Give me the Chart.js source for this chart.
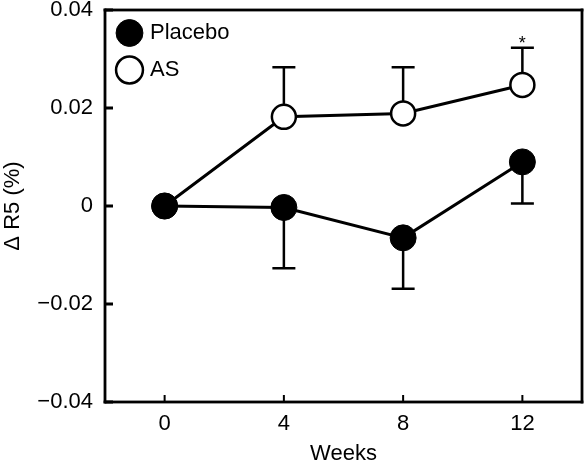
<!DOCTYPE html>
<html>
<head>
<meta charset="utf-8">
<script src="https://cdn.jsdelivr.net/npm/chart.js@4.4.1/dist/chart.umd.min.js"></script>
<style>
  html, body { margin: 0; padding: 0; background: #fff; }
</style>
</head>
<body>
<canvas id="chart" width="585" height="465"></canvas>
<script>
// data
const weeks = [0, 4, 8, 12];
const placebo = [0, -0.0003, -0.0065, 0.0090];
const placeboSE = [0, 0.0124, 0.0104, 0.0085];   // drawn downward
const as = [0, 0.0182, 0.0189, 0.0247];
const asSE = [0, 0.0101, 0.0094, 0.0076];        // drawn upward
const asMarks = ['', '', '', '*'];

const xTicks = [0, 4, 8, 12];
const yTicks = [-0.04, -0.02, 0, 0.02, 0.04];
const yTickLabels = ['\u22120.04', '\u22120.02', '0', '0.02', '0.04'];

const FONT = '"Liberation Sans", Arial, Helvetica, sans-serif';

const errorBars = {
  id: 'errorBars',
  beforeDatasetsDraw(chart) {
    const ctx = chart.ctx, x = chart.scales.x, y = chart.scales.y;
    const bars = [[placebo, placeboSE, -1], [as, asSE, 1]];
    ctx.save();
    ctx.strokeStyle = '#000';
    ctx.lineWidth = 2.5;
    bars.forEach(([vals, se, dir]) => {
      weeks.forEach((w, i) => {
        if (!se[i]) return;
        const px = x.getPixelForValue(w);
        const p0 = y.getPixelForValue(vals[i]);
        const p1 = y.getPixelForValue(vals[i] + dir * se[i]);
        ctx.beginPath();
        ctx.moveTo(px, p0); ctx.lineTo(px, p1);
        ctx.moveTo(px - 11.5, p1); ctx.lineTo(px + 11.5, p1);
        ctx.stroke();
      });
    });
    // significance mark above the AS bar
    ctx.fillStyle = '#000';
    ctx.font = '18px ' + FONT;
    ctx.textAlign = 'center';
    ctx.textBaseline = 'bottom';
    weeks.forEach((w, i) => {
      if (!asMarks[i]) return;
      ctx.fillText(asMarks[i], x.getPixelForValue(w), y.getPixelForValue(as[i] + asSE[i]) + 5);
    });
    ctx.restore();
  }
};

// box around the plot plus inward tick marks
const axisBox = {
  id: 'axisBox',
  afterDraw(chart) {
    const ctx = chart.ctx, a = chart.chartArea, x = chart.scales.x, y = chart.scales.y;
    ctx.save();
    ctx.fillStyle = '#000';
    const w = 2.8, h = w / 2;
    ctx.fillRect(a.left - h, a.top - h, a.right - a.left + w, w);
    ctx.fillRect(a.left - h, a.bottom - h, a.right - a.left + w, w);
    ctx.fillRect(a.left - h, a.top - h, w, a.bottom - a.top + w);
    ctx.fillRect(a.right - h, a.top - h, w, a.bottom - a.top + w);
    y.ticks.forEach(t => {
      const py = y.getPixelForValue(t.value);
      ctx.fillRect(a.left, py - 1.5, 8, 3);
    });
    x.ticks.forEach(t => {
      const px = x.getPixelForValue(t.value);
      ctx.fillRect(px - 1, a.bottom - 7, 2, 7);
    });
    ctx.restore();
  }
};

new Chart(document.getElementById('chart'), {
  type: 'line',
  data: {
    datasets: [{
      label: 'Placebo',
      data: weeks.map((w, i) => ({x: w, y: placebo[i]})),
      borderColor: '#000',
      backgroundColor: '#000',
      borderWidth: 3,
      pointRadius: 13,
      pointBackgroundColor: '#000',
      pointBorderColor: '#000',
      pointBorderWidth: 1,
      fill: false
    }, {
      label: 'AS',
      data: weeks.map((w, i) => ({x: w, y: as[i]})),
      borderColor: '#000',
      backgroundColor: '#fff',
      borderWidth: 3,
      pointRadius: 12,
      pointBackgroundColor: '#fff',
      pointBorderColor: '#000',
      pointBorderWidth: 2.5,
      fill: false
    }]
  },
  options: {
    responsive: false,
    animation: false,
    layout: { autoPadding: false, padding: { top: 10, right: 3, left: 0, bottom: 0 } },
    plugins: {
      tooltip: { enabled: false },
      legend: {
        position: 'chartArea',
        align: 'start',
        title: { display: true, text: ' ', font: { size: 7, lineHeight: 1 }, padding: 0 },
        labels: {
          usePointStyle: true,
          pointStyle: 'circle',
          boxWidth: 19,
          boxHeight: 19,
          padding: 15,
          color: '#000',
          font: { family: FONT, size: 22 }
        }
      }
    },
    scales: {
      x: {
        type: 'linear',
        min: -2,
        max: 14,
        afterBuildTicks: s => { s.ticks = xTicks.map(v => ({value: v})); },
        afterFit: s => { s.height = 63; s.paddingLeft = 0; s.paddingRight = 0; },
        grid: { display: false, drawTicks: false },
        border: { display: false },
        ticks: { padding: 9, color: '#000', font: { family: FONT, size: 22 } },
        title: {
          display: true, text: 'Weeks', color: '#000',
          font: { family: FONT, size: 22, lineHeight: 1 },
          padding: { top: 0, bottom: 0 }
        }
      },
      y: {
        min: -0.04,
        max: 0.04,
        afterBuildTicks: s => { s.ticks = yTicks.map(v => ({value: v})); },
        afterFit: s => { s.width = 105; s.paddingTop = 0; s.paddingBottom = 0; },
        grid: { display: false, drawTicks: false },
        border: { display: false },
        ticks: {
          padding: 12, color: '#000', font: { family: FONT, size: 22 },
          callback: (v, i) => yTickLabels[i]
        },
        title: {
          display: true, text: '\u0394 R5 (%)', color: '#000',
          font: { family: FONT, size: 22, lineHeight: 1 },
          padding: { top: 2, bottom: 0 }
        }
      }
    }
  },
  plugins: [errorBars, axisBox]
});
</script>
</body>
</html>
